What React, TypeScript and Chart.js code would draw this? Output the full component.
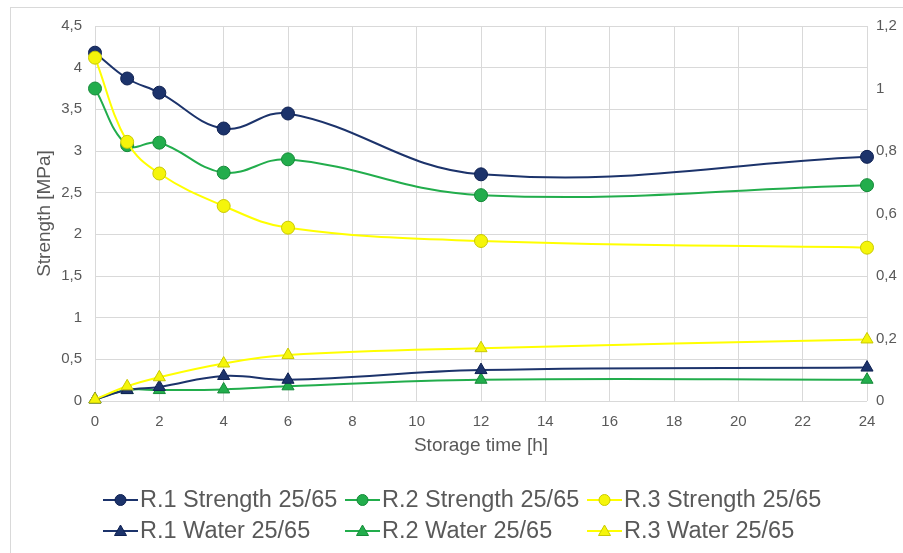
import React, { useEffect, useRef } from "react";
import { Chart, registerables } from "chart.js";

Chart.register(...registerables);

const hours = [0, 1, 2, 4, 6, 12, 24];
const r1Strength = [4.18, 3.87, 3.7, 3.27, 3.45, 2.72, 2.93];
const r2Strength = [3.75, 3.07, 3.1, 2.74, 2.9, 2.47, 2.59];
const r3Strength = [4.12, 3.11, 2.73, 2.34, 2.08, 1.92, 1.84];
const r1Water = [0.005, 0.035, 0.045, 0.08, 0.068, 0.099, 0.107];
const r2Water = [0.005, 0.035, 0.035, 0.037, 0.047, 0.068, 0.068];
const r3Water = [0.005, 0.047, 0.076, 0.12, 0.147, 0.169, 0.197];

const labels = [
  "R.1 Strength 25/65",
  "R.2 Strength 25/65",
  "R.3 Strength 25/65",
  "R.1 Water 25/65",
  "R.2 Water 25/65",
  "R.3 Water 25/65",
];

const NAVY = "#1c336b";
const NAVY_EDGE = "#0f2152";
const GREEN = "#22ad4c";
const GREEN_EDGE = "#168a39";
const YELLOW = "#ffff00";
const YELLOW_FILL = "#f5f50a";
const YELLOW_EDGE = "#c9c900";
const TEXT = "#595959";
const GRID = "#d9d9d9";
const FONT = "'Liberation Sans', Arial, sans-serif";

const toPoints = (ys: number[]) => hours.map((x, i) => ({ x, y: ys[i] }));
const comma = (v: any) => String(Math.round(Number(v) * 100) / 100).replace(".", ",");

const legendPlugin = {
  id: "gridLegend",
  afterDraw(chart: any) {
    const ctx = chart.ctx;
    const ds = chart.data.datasets;
    ctx.save();
    ctx.font = `23.5px ${FONT}`;
    ctx.textBaseline = "middle";
    ctx.textAlign = "left";
    ds.forEach((d: any, i: number) => {
      const col = i % 3;
      const row = Math.floor(i / 3);
      const x0 = 103 + col * 242;
      const y = 500 + row * 31;
      ctx.strokeStyle = d.borderColor;
      ctx.lineWidth = 2;
      ctx.beginPath();
      ctx.moveTo(x0, y);
      ctx.lineTo(x0 + 35, y);
      ctx.stroke();
      const cx = x0 + 17.5;
      ctx.fillStyle = d.pointBackgroundColor;
      ctx.strokeStyle = d.pointBorderColor;
      ctx.lineWidth = 1;
      ctx.beginPath();
      if (d.pointStyle === "triangle") {
        const r = 6;
        ctx.moveTo(cx, y - r);
        ctx.lineTo(cx + r, y + r * 0.75);
        ctx.lineTo(cx - r, y + r * 0.75);
        ctx.closePath();
      } else {
        ctx.arc(cx, y, 5.5, 0, Math.PI * 2);
      }
      ctx.fill();
      ctx.stroke();
      ctx.fillStyle = TEXT;
      ctx.fillText(d.label, x0 + 37, y + 1);
    });
    ctx.restore();
  },
};

function makeDataset(label: string, ys: number[], line: string, fill: string, edge: string, style: string, axis: string, order: number) {
  return {
    label,
    data: toPoints(ys),
    borderColor: line,
    backgroundColor: fill,
    pointBackgroundColor: fill,
    pointBorderColor: edge,
    pointBorderWidth: 1,
    pointStyle: style,
    pointRadius: style === "triangle" ? 7 : 6.5,
    borderWidth: 2,
    tension: 0.4,
    yAxisID: axis,
    order,
    fill: false,
    clip: false,
  };
}

export default function App() {
  const ref = useRef<HTMLCanvasElement | null>(null);
  useEffect(() => {
    if (!ref.current) return;
    const chart = new Chart(ref.current, {
      type: "line",
      data: {
        datasets: [
          makeDataset(labels[0], r1Strength, NAVY, NAVY, NAVY_EDGE, "circle", "y", 4),
          makeDataset(labels[1], r2Strength, GREEN, GREEN, GREEN_EDGE, "circle", "y", 3),
          makeDataset(labels[2], r3Strength, YELLOW, YELLOW_FILL, YELLOW_EDGE, "circle", "y", 2),
          makeDataset(labels[3], r1Water, NAVY, NAVY, NAVY_EDGE, "triangle", "y2", 5),
          makeDataset(labels[4], r2Water, GREEN, GREEN, GREEN_EDGE, "triangle", "y2", 6),
          makeDataset(labels[5], r3Water, YELLOW, YELLOW_FILL, YELLOW_EDGE, "triangle", "y2", 1),
        ] as any,
      },
      options: {
        responsive: false,
        animation: false,
        layout: { padding: { left: 0, top: 26, right: 0, bottom: 92 } },
        plugins: { legend: { display: false }, tooltip: { enabled: false } },
        scales: {
          x: {
            type: "linear",
            min: 0,
            max: 24,
            afterFit(scale: any) {
              scale.height = 60;
            },
            ticks: { stepSize: 2, color: TEXT, font: { size: 15, family: FONT }, padding: 12, maxRotation: 0 },
            grid: { color: GRID, drawTicks: false },
            border: { display: false },
            title: { display: true, text: "Storage time [h]", color: TEXT, font: { size: 19, family: FONT }, padding: { top: 0, bottom: 4 } },
          },
          y: {
            type: "linear",
            position: "left",
            min: 0,
            max: 4.5,
            afterFit(scale: any) {
              scale.width = 95;
            },
            ticks: { stepSize: 0.5, color: TEXT, font: { size: 15, family: FONT }, padding: 13, callback: comma },
            grid: { color: GRID, drawTicks: false },
            border: { display: false },
            title: { display: true, text: "Strength [MPa]", color: TEXT, font: { size: 19, family: FONT }, padding: { top: 33, bottom: 0 } },
          },
          y2: {
            type: "linear",
            position: "right",
            min: 0,
            max: 1.2,
            afterFit(scale: any) {
              scale.width = 36;
            },
            ticks: { stepSize: 0.2, color: TEXT, font: { size: 15, family: FONT }, padding: 9, callback: comma },
            grid: { display: false, drawTicks: false },
            border: { display: false },
          },
        },
      } as any,
      plugins: [legendPlugin],
    });
    return () => chart.destroy();
  }, []);
  return (
    <div style={{ position: "fixed", left: 0, top: 0, width: 903, height: 553, background: "#fff", overflow: "hidden" }}>
      <div style={{ position: "absolute", left: 10, top: 7, width: 900, height: 560, border: "1px solid #d9d9d9", boxSizing: "border-box" }} />
      <canvas ref={ref} width={903} height={553} style={{ position: "absolute", left: 0, top: 0, display: "block" }} />
    </div>
  );
}
